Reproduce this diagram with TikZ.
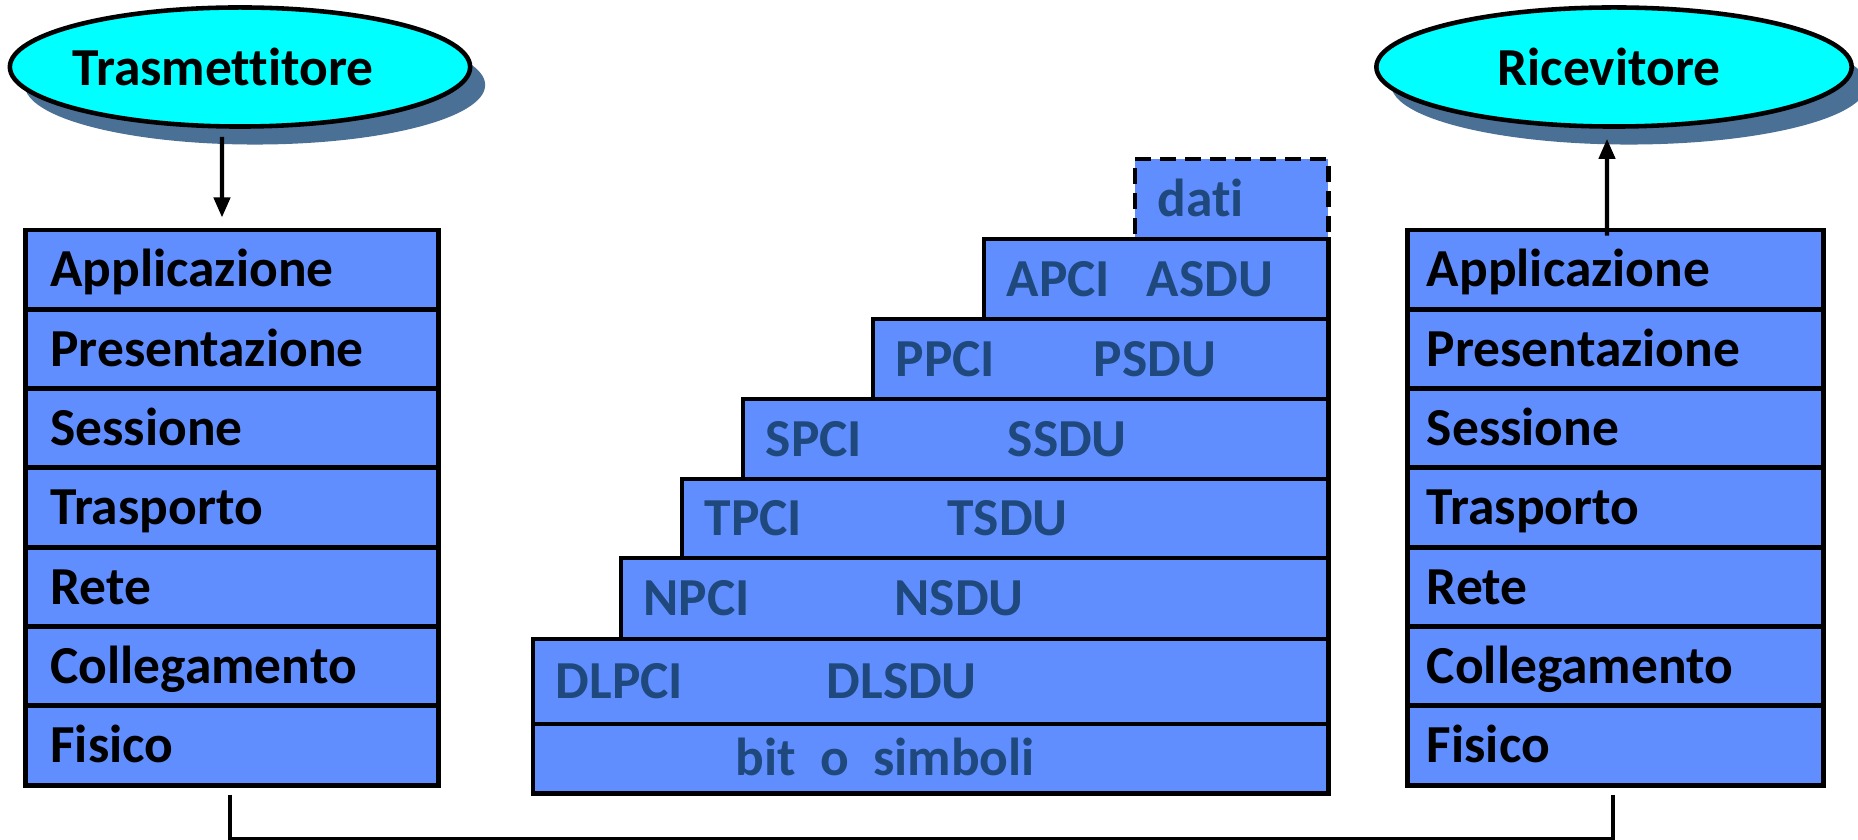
\documentclass[tikz,border=0pt]{standalone}
\usepackage{fontspec}
\setmainfont{Carlito}[Ligatures=NoCommon]
\usetikzlibrary{shapes.geometric,shadows,arrows.meta,positioning}
\definecolor{layerblue}{RGB}{96,142,255}
\definecolor{pduink}{RGB}{31,73,125}
\definecolor{shadowblue}{RGB}{75,112,150}
\definecolor{endcyan}{RGB}{0,255,255}

\begin{document}
\begin{tikzpicture}[x=0.01cm,y=-0.01cm,
    bigfont/.style={font=\fontsize{15.2}{18}\selectfont\bfseries},
    layer/.style={draw,line width=1.4pt,fill=layerblue,bigfont,minimum height=0.793cm,
      text width=3.63cm,inner xsep=0.25cm,align=left,text height=0.38cm,text depth=0.035cm},
    pdu/.style={draw,line width=1.4pt,fill=layerblue,anchor=north west,inner sep=0pt,outer sep=0pt},
    pdutext/.style={anchor=west,text=pduink,bigfont,inner sep=0pt,text height=0.38cm,text depth=0.035cm},
    endpoint/.style={ellipse,draw,line width=1.3pt,fill=endcyan,minimum height=1.19cm,inner sep=0pt,
      drop shadow={shadow xshift=0.15cm,shadow yshift=-0.18cm,fill=shadowblue,opacity=1}},
    updown/.style={line width=1.2pt,-{Triangle[length=0.2cm,width=0.16cm]}}]
  \useasboundingbox (0,0) rectangle (1858,840);
  % end systems
  \node[endpoint,minimum width=4.6cm] (trasm) at (240,67) {};
  \node[bigfont] (trasmtext) at ([xshift=-0.17cm]trasm.center) {Trasmettitore};
  \node[endpoint,minimum width=4.75cm] (ricev) at (1614,67) {};
  \node[bigfont] (ricevtext) at ([xshift=-0.05cm]ricev.center) {Ricevitore};
  % the two protocol stacks
  \foreach \n [count=\i from 0] in {Applicazione,Presentazione,Sessione,Trasporto,Rete,Collegamento,Fisico} {
    \node[layer] (tx\i) at (232,{230+79.3*(\i+0.5)}) {\n};
    \node[layer,inner xsep=0.19cm,text width=3.77cm] (rx\i) at (1615.5,{230+79.3*(\i+0.5)}) {\n};
  }
  % data units
  \node[pdu,dash pattern=on 0.16cm off 0.09cm,minimum width=1.93cm,minimum height=0.8cm] (dati) at (1135,159) {};
  \node[pdutext] (datitext) at ([xshift=0.22cm]dati.west) {dati};
  \foreach \l/\t/\b/\p/\s/\sx [count=\i] in {984/239/319/APCI/ASDU/1146,873/319/399/PPCI/PSDU/1093,
      743/399/479/SPCI/SSDU/1007,682/479/558/TPCI/TSDU/947,621/558/639/NPCI/NSDU/894,533/639/724/DLPCI/DLSDU/826} {
    \pgfmathsetmacro\w{(1328-\l)/100} \pgfmathsetmacro\h{(\b-\t)/100}
    \node[pdu,minimum width=\w cm,minimum height=\h cm] (pdu\i) at (\l,\t) {};
    \node[pdutext] (pci\i) at ([xshift=0.22cm]pdu\i.west) {\p};
    \node[pdutext] (sdu\i) at (pdu\i.west -| \sx,0) {\s};
  }
  \node[pdu,minimum width=7.95cm,minimum height=0.69cm] (bits) at (533,724) {};
  \node[pdutext] (bitstext) at (bits.west -| 735,0) {bit\ \ o\ \ simboli};
  % arrows and physical link
  \draw[updown] ([xshift=-0.18cm,yshift=-0.08cm]trasm.south) -- ([xshift=-0.1cm,yshift=0.1cm]tx0.north);
  \draw[updown] ([xshift=-0.085cm,yshift=-0.08cm]rx0.north) -- ([xshift=-0.07cm,yshift=-0.1cm]ricev.south);
  \coordinate (linkL) at ([xshift=-0.02cm,yshift=-0.07cm]tx6.south);
  \coordinate (linkR) at ([xshift=-0.025cm,yshift=-0.07cm]rx6.south);
  \draw[line width=1.3pt] (linkL) -- ++(0,45) -| (linkR);
\end{tikzpicture}
\end{document}
